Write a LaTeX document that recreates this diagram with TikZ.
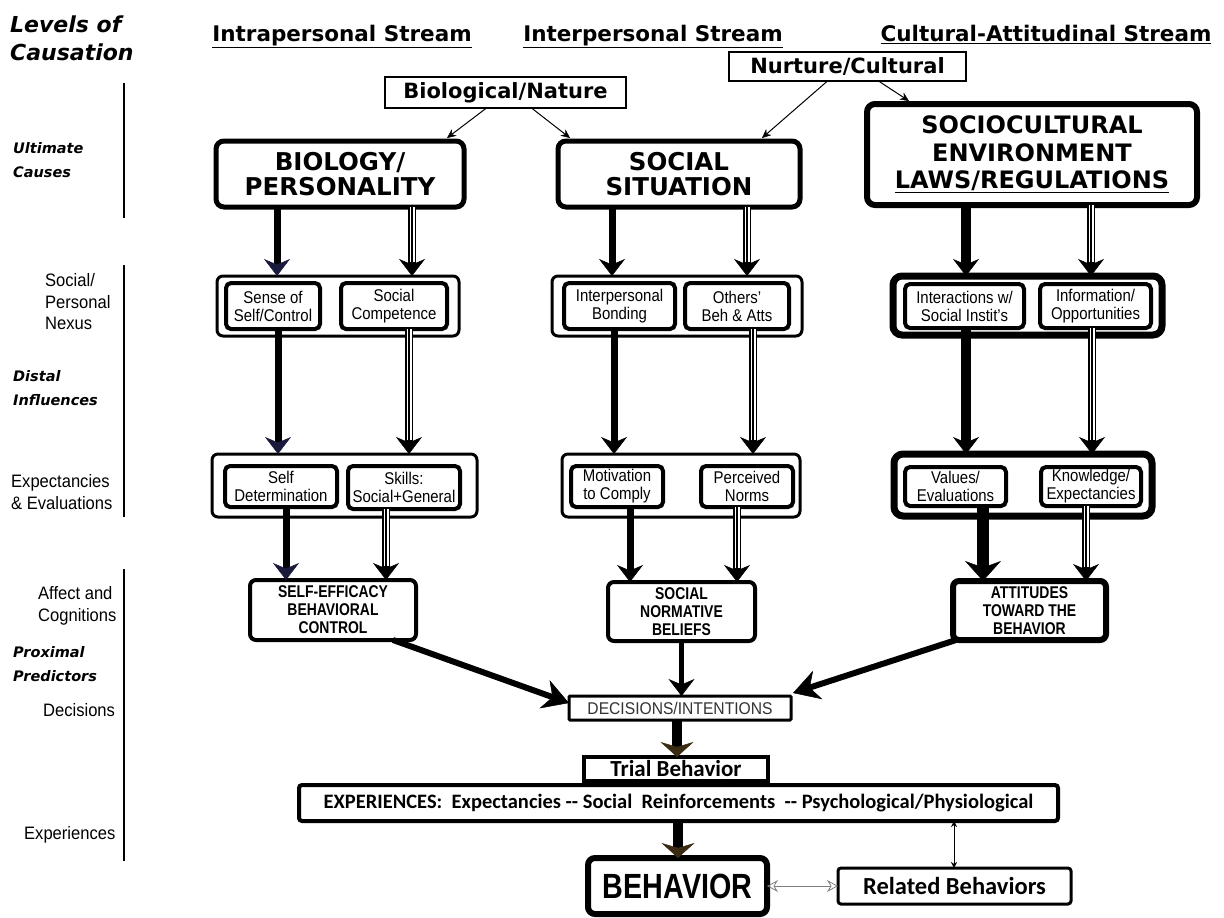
\documentclass[tikz,border=0pt]{standalone}
\usepackage{fontspec}
\usetikzlibrary{arrows.meta,calc}
\newfontfamily\dv{DejaVu Sans}
\newfontfamily\nar{Liberation Sans}[FakeStretch=0.92]
\newfontfamily\nari{Liberation Sans}[FakeStretch=0.88]
\newfontfamily\narb{Liberation Sans}[FakeStretch=0.82]
\newfontfamily\carl{Carlito}
\definecolor{navyc}{HTML}{1A1A3C}
\definecolor{brownc}{HTML}{3A2A12}
\definecolor{decgray}{HTML}{333333}
\newcommand\bx[7]{\node[#6, minimum width={(#4)-(#2)}, minimum height={(#5)-(#3)}] (#1) at ({((#2)+(#4))/2},{((#3)+(#5))/2}) {#7};}
\newcommand\tri[2]{%
  \draw[line width=8pt, -{tipS}] #1 -- #2;
  \draw[white, line width=5pt, shorten >=14pt] #1 -- #2;
  \draw[line width=1.8pt, shorten >=14pt] #1 -- #2;}
\tikzset{
  tipS/.tip={Stealth[length=17pt,width=26pt,line width=0.5pt]},
  tipN/.tip={Stealth[length=17pt,width=26pt,line width=0.5pt,color=navyc]},
  tipW/.tip={Stealth[length=20pt,width=36pt,line width=0.5pt]},
  tipL/.tip={Stealth[length=26pt,width=30pt,line width=0.5pt]},
  tipB/.tip={Stealth[length=15pt,width=33pt,line width=0.5pt,color=brownc]},
  tipT/.tip={Stealth[length=9pt,width=8pt,line width=0.4pt]},
  tipD/.tip={Stealth[length=6pt,width=6pt,line width=0.4pt]},
  tipO/.tip={Stealth[open,length=11pt,width=12pt,line width=0.8pt]},
  base/.style={draw, inner sep=0pt, outer sep=0pt, align=center},
  bigbox/.style={base, line width=5pt, rounded corners=8pt, font=\dv\bfseries\fontsize{24.5}{25}\selectfont},
  socbox/.style={bigbox, line width=6pt, font=\dv\bfseries\fontsize{24}{27.5}\selectfont},
  srcbox/.style={base, line width=1.5pt, font=\dv\bfseries\fontsize{21}{23}\selectfont},
  grpbox/.style={base, line width=3pt, rounded corners=6pt},
  grpboxT/.style={base, line width=7pt, rounded corners=9pt},
  inbox/.style={base, line width=4pt, rounded corners=5pt, font=\nari\fontsize{17}{18}\selectfont},
  predbox/.style={base, line width=4pt, rounded corners=6pt, font=\narb\bfseries\fontsize{17}{18}\selectfont},
  predboxT/.style={predbox, line width=6pt},
  decbox/.style={base, line width=3pt, rounded corners=1pt, text=decgray, font=\nar\fontsize{17}{18}\selectfont},
  trialbox/.style={base, line width=3.5pt, font=\carl\bfseries\fontsize{23}{25}\selectfont},
  expbox/.style={base, line width=4pt, rounded corners=3pt, font=\carl\bfseries\fontsize{20.5}{22}\selectfont},
  behbox/.style={base, line width=6pt, rounded corners=7pt, font=\narb\bfseries\fontsize{35}{36}\selectfont},
  relbox/.style={base, line width=3pt, rounded corners=3pt, font=\carl\bfseries\fontsize{24.5}{26}\selectfont},
  heading/.style={inner sep=0pt, font=\dv\bfseries\fontsize{21.5}{24}\selectfont},
  levels/.style={inner sep=0pt, font=\dv\bfseries\itshape\fontsize{22}{28}\selectfont},
  lbold/.style={inner sep=0pt, align=left, font=\dv\bfseries\itshape\fontsize{14.5}{24}\selectfont},
  lreg/.style={inner sep=0pt, align=left, font=\nar\fontsize{18}{21.5}\selectfont},
  thk/.style={line width=7pt},
  thin arrow/.style={line width=1pt, -{tipT}},
}
\begin{document}
\begin{tikzpicture}[x=1pt,y=-1pt]
\useasboundingbox (0,0) rectangle (1224,918);
\fill[white] (0,0) rectangle (1224,918);

% headings
\node[levels, anchor=base west] (hLev1) at (10,32) {Levels of};
\node[levels, anchor=base west] (hLev2) at (10,60) {Causation};
\node[heading, anchor=base] (hIntra) at (342,41) {\underline{Intrapersonal Stream}};
\node[heading, anchor=base] (hInter) at (653,41) {\underline{Interpersonal Stream}};
\node[heading, anchor=base] (hCult) at (1046,41) {\underline{Cultural-Attitudinal Stream}};

% left labels
\draw[line width=2.5pt] (124,83) -- (124,218);
\draw[line width=2.5pt] (124,265) -- (124,517);
\draw[line width=2.5pt] (124,569) -- (124,861);
\node[lbold, anchor=west] (lUlt) at (13,160) {Ultimate\\Causes};
\node[lreg, anchor=west] (lNex) at (45,302) {Social/\\Personal\\Nexus};
\node[lbold, anchor=west] (lDis) at (13,388) {Distal\\Influences};
\node[lreg, anchor=west] (lExp) at (11,492) {Expectancies\\\& Evaluations};
\node[lreg, anchor=west] (lAff) at (38,606) {Affect and\\Cognitions};
\node[lbold, anchor=west] (lPro) at (13,664) {Proximal\\Predictors};
\node[lreg, anchor=west] (lDec) at (43,710) {Decisions};
\node[lreg, anchor=west] (lExpr) at (24,835) {Experiences};

% x positions of the vertical connectors
\foreach \n/\v in {a1/277,a2/412,b1/612,b2/747,c1/966,c2/1091,
                   d1/278,d2/409,e1/614,e2/753,f1/966,f2/1092,
                   g1/286,g2/386,h1/630,h2/737,i1/983,i2/1086,
                   j1/677,j2/678,j3/954}
  \coordinate (x\n) at (\v,0);

% source boxes
\bx{nature}{385}{77}{626}{108}{srcbox}{Biological/Nature}
\bx{nurture}{729}{52}{966}{81}{srcbox}{Nurture/Cultural}

% ultimate causes
\bx{bio}{216}{141}{464}{207}{bigbox}{BIOLOGY/\\PERSONALITY}
\bx{soc}{558}{141}{800}{207}{bigbox}{SOCIAL\\SITUATION}
\bx{cult}{867}{104}{1197}{205}{socbox}{SOCIOCULTURAL\\ENVIRONMENT\\\underline{LAWS/REGULATIONS}}

\draw[thin arrow] ($(nature.south)+(-19,0)$) -- ($(bio.north east)+(-17,-3)$);
\draw[thin arrow] ($(nature.south)+(26,0)$) -- ($(soc.north west)+(12,-3)$);
\draw[thin arrow] ($(nurture.south)+(-20,0)$) -- ($(soc.north east)+(-38,-3)$);
\draw[thin arrow] ($(nurture.south)+(31,0)$) -- ($(cult.north west)+(42,-3)$);

% social / personal nexus
\bx{gA1}{217}{276}{459}{336}{grpbox}{}
\bx{sense}{226}{283}{320}{329}{inbox}{Sense of\\Self/Control}
\bx{comp}{341}{283}{447}{329}{inbox}{Social\\Competence}
\bx{gB1}{552}{276}{802}{336}{grpbox}{}
\bx{bond}{564}{283}{675}{329}{inbox}{Interpersonal\\Bonding}
\bx{oth}{685}{283}{789}{329}{inbox}{Others’\\Beh \& Atts}
\bx{gC1}{893}{276}{1162}{335}{grpboxT}{}
\bx{inst}{905}{284}{1024}{328}{inbox}{Interactions w/\\Social Instit’s}
\bx{info}{1040}{284}{1151}{328}{inbox}{Information/\\Opportunities}

\draw[thk, -{tipN}] (xa1 |- bio.south) -- (xa1 |- gA1.north);
\tri{(xa2 |- bio.south)}{(xa2 |- gA1.north)}
\draw[thk, -{tipS}] (xb1 |- soc.south) -- (xb1 |- gB1.north);
\tri{(xb2 |- soc.south)}{(xb2 |- gB1.north)}
\draw[line width=10pt, -{tipS}] (xc1 |- cult.south) -- (xc1 |- gC1.north);
\tri{(xc2 |- cult.south)}{(xc2 |- gC1.north)}

% expectancies & evaluations
\bx{gA2}{212}{454}{477}{517}{grpbox}{}
\bx{selfdet}{225}{466}{337}{507}{inbox}{Self\\Determination}
\bx{skills}{348}{466}{460}{509}{inbox}{Skills:\\Social+General}
\bx{gB2}{562}{454}{800}{517}{grpbox}{}
\bx{motiv}{571}{466}{663}{507}{inbox}{Motivation\\to Comply}
\bx{norms}{701}{466}{793}{507}{inbox}{Perceived\\Norms}
\bx{gC2}{894}{454}{1152}{516}{grpboxT}{}
\bx{values}{905}{467}{1006}{506}{inbox}{Values/\\Evaluations}
\bx{know}{1041}{467}{1141}{506}{inbox}{Knowledge/\\Expectancies}

\draw[thk, -{tipN}] (xd1 |- sense.south) -- (xd1 |- gA2.north);
\tri{(xd2 |- comp.south)}{(xd2 |- gA2.north)}
\draw[thk, -{tipS}] (xe1 |- bond.south) -- (xe1 |- gB2.north);
\tri{(xe2 |- oth.south)}{(xe2 |- gB2.north)}
\draw[line width=10pt, -{tipS}] (xf1 |- inst.south) -- (xf1 |- gC2.north);
\tri{(xf2 |- info.south)}{(xf2 |- gC2.north)}

% affect and cognitions
\bx{selfeff}{250}{580}{416}{640}{predbox}{SELF-EFFICACY\\BEHAVIORAL\\CONTROL}
\bx{snb}{608}{582}{755}{641}{predbox}{SOCIAL\\NORMATIVE\\BELIEFS}
\bx{att}{953}{581}{1106}{640}{predboxT}{ATTITUDES\\TOWARD THE\\BEHAVIOR}

\draw[thk, -{tipN}] (xg1 |- selfdet.south) -- (xg1 |- selfeff.north);
\tri{(xg2 |- skills.south)}{(xg2 |- selfeff.north)}
\draw[thk, -{tipS}] (xh1 |- motiv.south) -- (xh1 |- snb.north);
\tri{(xh2 |- norms.south)}{(xh2 |- snb.north)}
\draw[line width=12pt, -{tipW}] (xi1 |- values.south) -- (xi1 |- att.north);
\tri{(xi2 |- know.south)}{(xi2 |- att.north)}

% decisions and behaviour
\bx{dec}{569}{696}{791}{720}{decbox}{DECISIONS/INTENTIONS}
\bx{trial}{584}{757}{768}{781}{trialbox}{Trial Behavior}
\bx{exp}{299}{785}{1058}{821}{expbox}{EXPERIENCES:\ \ Expectancies -{}- Social\ \ Reinforcements\ \ -{}- Psychological/Physiological}
\bx{beh}{588}{858}{767}{914}{behbox}{BEHAVIOR}
\bx{rel}{838}{868}{1071}{904}{relbox}{Related Behaviors}

\draw[line width=6pt, -{tipL}] ($(selfeff.south east)+(-23,0)$) -- ($(dec.west)+(0,-5)$);
\draw[line width=5pt, -{tipS}] (snb.south) -- (snb.south |- dec.north);
\draw[line width=6pt, -{tipL}] ($(att.south west)+(3,0)$) -- ($(dec.north east)+(2,-3)$);
\draw[line width=10pt, -{tipB}] (xj1 |- dec.south) -- (xj1 |- trial.north);
\draw[line width=10pt, -{tipB}] (xj2 |- exp.south) -- (xj2 |- beh.north);
\draw[gray, line width=0.8pt, {tipO}-{tipO}] (beh.east) -- (beh.east -| rel.west);
\draw[line width=0.8pt, {tipD}-{tipD}] (xj3 |- exp.south) -- (xj3 |- rel.north);
\end{tikzpicture}
\end{document}
